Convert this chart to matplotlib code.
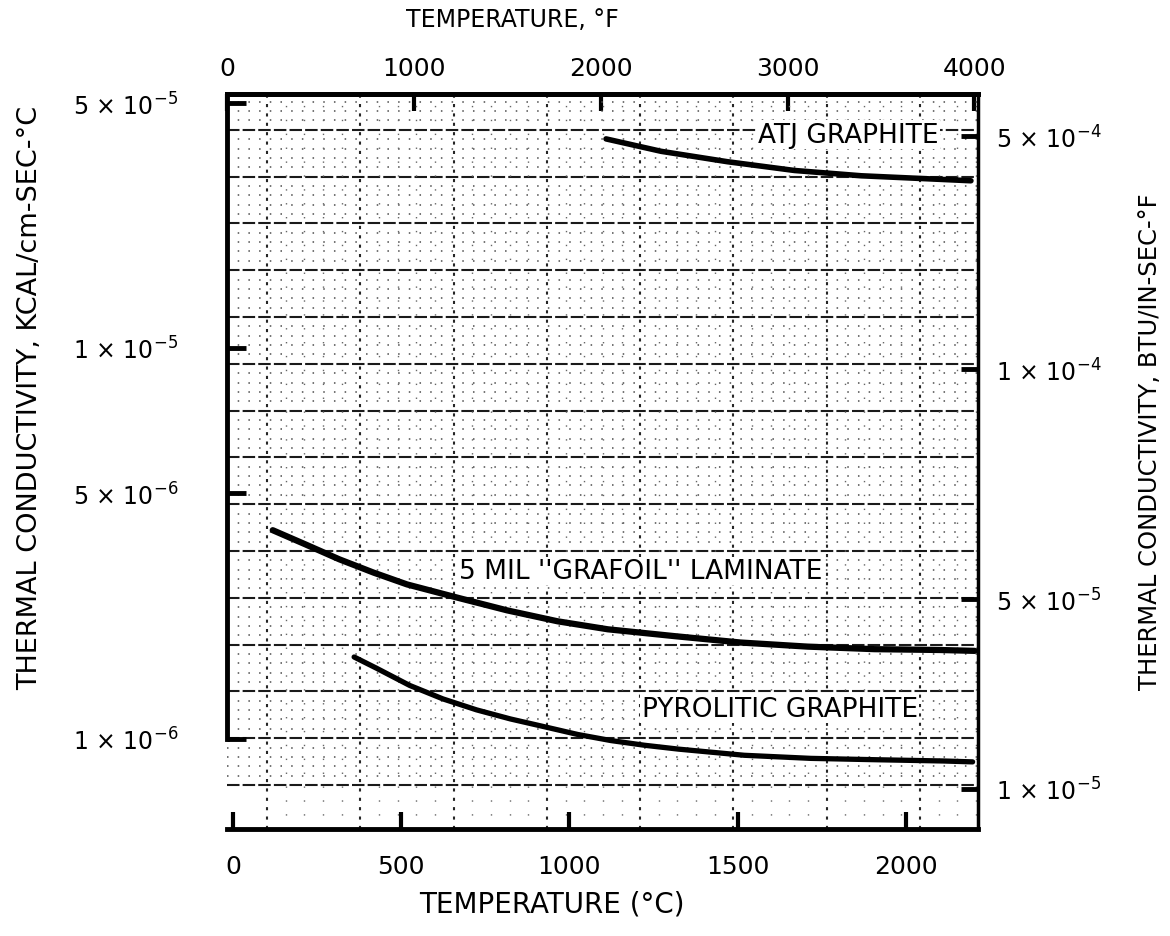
import numpy as np
import matplotlib
matplotlib.use('Agg')
import matplotlib.pyplot as plt

# curves: temperature (deg C) vs conductivity (kcal/cm-sec-deg C)
atj_temp = [1109, 1273, 1470, 1669, 1868, 2063, 2194]
atj_k = [3.95e-5, 3.64e-5, 3.40e-5, 3.21e-5, 3.10e-5, 3.04e-5, 3.00e-5]

grafoil_temp = [118, 216, 316, 418, 517, 675, 815, 965, 1114, 1313, 1509, 1709, 1907, 2104, 2205]
grafoil_k = [3.92e-6, 3.57e-6, 3.24e-6, 2.97e-6, 2.75e-6, 2.51e-6, 2.32e-6, 2.16e-6,
             2.05e-6, 1.96e-6, 1.88e-6, 1.83e-6, 1.80e-6, 1.79e-6, 1.78e-6]

pyro_temp = [360, 426, 525, 624, 724, 825, 923, 1025, 1123, 1223, 1324, 1520, 1718, 1917, 2113, 2199]
pyro_k = [1.71e-6, 1.59e-6, 1.42e-6, 1.30e-6, 1.21e-6, 1.14e-6, 1.085e-6, 1.03e-6,
          9.9e-7, 9.6e-7, 9.36e-7, 8.99e-7, 8.81e-7, 8.73e-7, 8.66e-7, 8.61e-7]

curve_names = ['ATJ GRAPHITE', "5 MIL ''GRAFOIL'' LAMINATE", 'PYROLITIC GRAPHITE']
name_temp = [1829, 1213, 1625]
name_k = [4.06e-5, 3.0e-6, 1.22e-6]

left_ticks = [5e-5, 1e-5, 5e-6, 1e-6]
left_labels = [r'5 $\times$ 10$^{-5}$', r'1 $\times$ 10$^{-5}$',
               r'5 $\times$ 10$^{-6}$', r'1 $\times$ 10$^{-6}$']
right_ticks = [5e-4, 1e-4, 5e-5, 1e-5]
right_labels = [r'5 $\times$ 10$^{-4}$', r'1 $\times$ 10$^{-4}$',
                r'5 $\times$ 10$^{-5}$', r'1 $\times$ 10$^{-5}$']
c_ticks = [0, 500, 1000, 1500, 2000]
f_ticks = [0, 1000, 2000, 3000, 4000]

# the hand drawn log scales are not evenly spaced: map log10(k) -> height (px above bottom)
L_LOG = [-8, -6, -5.301, -5, -4.301, -3]
L_H = [-614, 90, 336, 481, 726, 1181]
R_LOG = [-6, -5, -4.301, -4, -3.301, -2]
R_H = [-232, 40, 230, 460, 693, 1126]
AX_H = 735


def fwd_left(v):
    return np.interp(np.log10(np.clip(v, 1e-12, None)), L_LOG, L_H)


def inv_left(h):
    return 10 ** np.interp(h, L_H, L_LOG)


def fwd_right(v):
    return np.interp(np.log10(np.clip(v, 1e-12, None)), R_LOG, R_H)


def inv_right(h):
    return 10 ** np.interp(h, R_H, R_LOG)


def c2f(c):
    return np.asarray(c) * 9.0 / 5.0 + 32


def f2c(f):
    return (np.asarray(f) - 32) * 5.0 / 9.0


fig = plt.figure(figsize=(11.7, 9.37), dpi=100)
ax = fig.add_axes([227 / 1170, 1 - 830 / 937, 751 / 1170, AX_H / 937])

ax.set_yscale('function', functions=(fwd_left, inv_left))
ax.set_ylim(inv_left(0), inv_left(AX_H))
ax.set_xlim(-18, 2215)

# graph paper background
for k in range(15):
    f = 0.0599 + k * 0.06367
    ax.plot([0, 1], [f, f], transform=ax.transAxes, color='0.1', lw=1.5,
            ls=(0, (6, 1.5)), zorder=1)
    for m in range(1, 5):
        g = f + m * 0.01273
        if g < 1:
            ax.plot([0, 1], [g, g], transform=ax.transAxes, color='0.3', lw=1.1,
                    ls=(0, (1, 6)), zorder=1)
for k in range(8):
    f = 0.0533 + k * 0.1242
    ax.plot([f, f], [0, 1], transform=ax.transAxes, color='0.15', lw=1.5,
            ls=(0, (1.5, 3)), zorder=1)
    for m in range(1, 5):
        g = f + m * 0.02485
        if g < 1:
            ax.plot([g, g], [0, 1], transform=ax.transAxes, color='0.4', lw=1.0,
                    ls=(0, (1, 9)), zorder=1)

ax.plot(atj_temp, atj_k, color='black', lw=4, solid_capstyle='round', zorder=3)
ax.plot(grafoil_temp, grafoil_k, color='black', lw=4.5, solid_capstyle='round', zorder=3)
ax.plot(pyro_temp, pyro_k, color='black', lw=3.8, solid_capstyle='round', zorder=3)

for name, t, k in zip(curve_names, name_temp, name_k):
    ax.text(t, k, name, fontsize=19, ha='center', va='center', zorder=4,
            bbox=dict(facecolor='white', edgecolor='none', pad=1))

for s in ['left', 'right', 'top', 'bottom']:
    ax.spines[s].set_linewidth(3.5)
ax.spines['right'].set_linewidth(2.5)
ax.spines['left'].set_bounds(1e-6, inv_left(AX_H))

ax.set_yticks(left_ticks)
ax.set_yticklabels(left_labels)
ax.yaxis.set_minor_locator(plt.NullLocator())
ax.tick_params(axis='y', direction='in', length=14, width=3.5, pad=35, labelsize=17)

ax.set_xticks(c_ticks)
ax.xaxis.set_minor_locator(plt.NullLocator())
ax.tick_params(axis='x', direction='in', length=12, width=3, pad=18, labelsize=18)

top = ax.secondary_xaxis('top', functions=(c2f, f2c))
top.set_xticks(f_ticks)
top.xaxis.set_minor_locator(plt.NullLocator())
top.tick_params(direction='in', length=12, width=3, pad=10, labelsize=18)
top.spines['top'].set_linewidth(3.5)

right = ax.twinx()
right.set_yscale('function', functions=(fwd_right, inv_right))
right.set_ylim(inv_right(0), inv_right(AX_H))
right.set_yticks(right_ticks)
right.set_yticklabels(right_labels)
right.yaxis.set_minor_locator(plt.NullLocator())
right.tick_params(axis='y', direction='in', length=12, width=3.5, pad=13, labelsize=17)
for s in right.spines.values():
    s.set_visible(False)

fig.text(30 / 1170, 1 - 398 / 937, 'THERMAL CONDUCTIVITY, KCAL/cm-SEC-°C',
         rotation=90, ha='center', va='center', fontsize=19.5)
fig.text(1150 / 1170, 1 - 442 / 937, 'THERMAL CONDUCTIVITY, BTU/IN-SEC-°F',
         rotation=90, ha='center', va='center', fontsize=17.5)
fig.text(512 / 1170, 1 - 20 / 937, 'TEMPERATURE, °F', ha='center', va='center', fontsize=17)
fig.text(552 / 1170, 1 - 905 / 937, 'TEMPERATURE (°C)', ha='center', va='center', fontsize=20)

fig.savefig('out.png', dpi=100, facecolor='white')
